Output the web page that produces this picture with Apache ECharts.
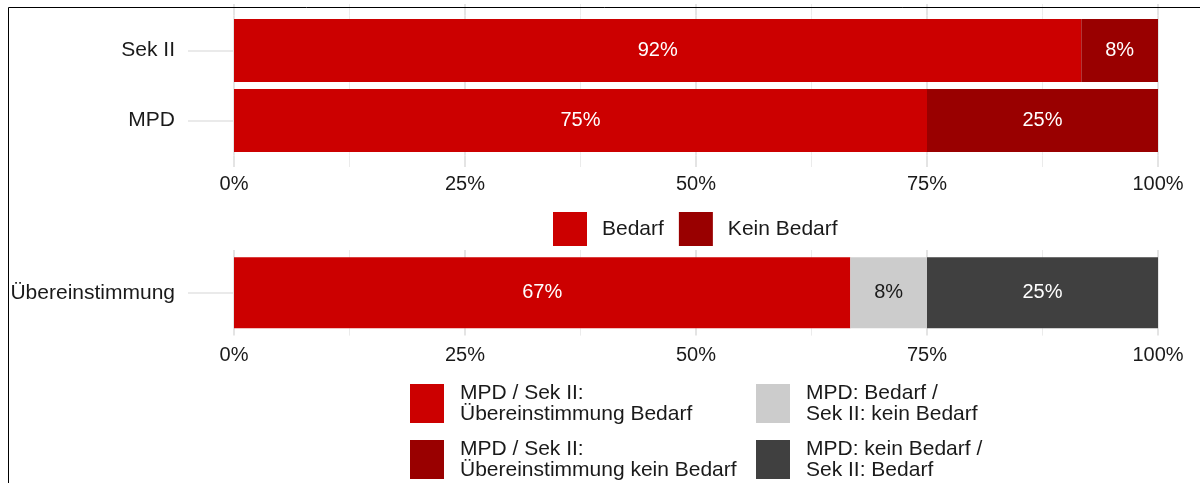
<!DOCTYPE html>
<html>
<head>
<meta charset="utf-8">
<script src="https://cdn.jsdelivr.net/npm/echarts@6/dist/echarts.min.js"></script>
<style>
  html, body { margin: 0; padding: 0; background: #fff; }
  #chart { width: 1200px; height: 483px; }
</style>
</head>
<body>
<div id="chart"></div>
<script>
// Daten oben: Bedarf je Gruppe
var groups = ['Sek II', 'MPD'];
var bedarf = [91.7, 75];
var keinBedarf = [8.3, 25];

// Daten unten: Übereinstimmung
var matchCat = ['Übereinstimmung'];
var matchBedarf = [66.7];
var mpdOnly = [8.3];
var sekOnly = [25];

var ticks = [0, 25, 50, 75, 100];

var names = {
  bedarf: 'Bedarf',
  kein: 'Kein Bedarf',
  m1: 'MPD / Sek II:\nÜbereinstimmung Bedarf',
  m2: 'MPD / Sek II:\nÜbereinstimmung kein Bedarf',
  m3: 'MPD: Bedarf /\nSek II: kein Bedarf',
  m4: 'MPD: kein Bedarf /\nSek II: Bedarf'
};

var red = '#cc0000', darkRed = '#990000', lightGrey = '#cccccc', darkGrey = '#404040';
var txt = '#1a1a1a';
var majorCol = '#dcdcdc', minorCol = '#ebebeb', hCol = '#e3e3e3';

function pct(p) { return Math.round(p.value) + '%'; }

function xBottom(grid, ext, margin) {
  return {
    type: 'value', gridIndex: grid, min: ticks[0], max: ticks[ticks.length - 1], interval: 25,
    axisLine: { show: false },
    axisTick: { show: true, length: ext, lineStyle: { color: majorCol, width: 1.5 } },
    minorTick: { show: true, splitNumber: 2, length: ext, lineStyle: { color: minorCol, width: 1 } },
    splitLine: { show: true, lineStyle: { color: majorCol, width: 1.5 } },
    minorSplitLine: { show: true, lineStyle: { color: minorCol, width: 1 } },
    axisLabel: { formatter: '{value}%', fontSize: 20, color: txt, margin: margin }
  };
}
function xTop(grid, ext) {
  return {
    type: 'value', gridIndex: grid, position: 'top', min: ticks[0], max: ticks[ticks.length - 1], interval: 25,
    axisLine: { show: false },
    axisTick: { show: true, length: ext, lineStyle: { color: majorCol, width: 1.5 } },
    minorTick: { show: true, splitNumber: 2, length: ext, lineStyle: { color: minorCol, width: 1 } },
    splitLine: { show: false },
    axisLabel: { show: false }
  };
}
function yAxis(grid, cats, pos) {
  return {
    type: 'category', gridIndex: grid, data: cats, inverse: true, position: pos,
    axisLine: { show: false },
    axisTick: { show: true, alignWithLabel: true, length: 46, lineStyle: { color: hCol, width: 1.5 } },
    axisLabel: { show: pos === 'left', fontSize: 21, color: txt, margin: 59 }
  };
}
function barSeries(name, data, color, labelColor, xi, yi, width) {
  return {
    name: name, type: 'bar', stack: 's' + xi, data: data, barWidth: width,
    xAxisIndex: xi, yAxisIndex: yi,
    itemStyle: { color: color },
    label: { show: true, position: 'inside', formatter: pct, fontSize: 20, color: labelColor }
  };
}
// Legende für die untere Reihe: je Eintrag eine eigene Legende
function keyLegend(name, left, top) {
  return {
    data: [name], left: left, top: top, icon: 'rect', padding: 0,
    itemWidth: 34, itemHeight: 39,
    textStyle: { fontSize: 21, lineHeight: 21, color: txt, padding: [0, 0, 0, 11] }
  };
}

var chart = echarts.init(document.getElementById('chart'));
chart.setOption({
  animation: false,
  backgroundColor: '#ffffff',
  textStyle: { fontFamily: 'Liberation Sans, Arial, sans-serif' },
  grid: [
    { left: 234, right: 42, top: 15.5, height: 140 },
    { left: 234, right: 42, top: 257.3, height: 71 }
  ],
  xAxis: [xBottom(0, 11.5, 18.5), xTop(0, 11.5), xBottom(1, 7.3, 17), xTop(1, 7.3)],
  yAxis: [yAxis(0, groups, 'left'), yAxis(0, groups, 'right'), yAxis(1, matchCat, 'left'), yAxis(1, matchCat, 'right')],
  legend: [
    {
      data: [names.bedarf, names.kein], left: 553, top: 212, icon: 'rect', padding: 0,
      itemWidth: 34, itemHeight: 34, itemGap: 15,
      textStyle: { fontSize: 21, color: txt, padding: [0, 0, 0, 10] }
    },
    keyLegend(names.m1, 410, 382.5),
    keyLegend(names.m2, 410, 438.5),
    keyLegend(names.m3, 756, 382.5),
    keyLegend(names.m4, 756, 438.5)
  ],
  graphic: [{
    type: 'rect', silent: true, z: 100,
    shape: { x: 8.5, y: 7.5, width: 1400, height: 800 },
    style: { fill: 'none', stroke: '#000', lineWidth: 1 }
  }],
  series: [
    barSeries(names.bedarf, bedarf, red, '#ffffff', 0, 0, '90%'),
    barSeries(names.kein, keinBedarf, darkRed, '#ffffff', 0, 0, '90%'),
    barSeries(names.m1, matchBedarf, red, '#ffffff', 2, 2, '100%'),
    barSeries(names.m3, mpdOnly, lightGrey, txt, 2, 2, '100%'),
    barSeries(names.m4, sekOnly, darkGrey, '#ffffff', 2, 2, '100%'),
    // nur für die Legende: kein Wert in der unteren Reihe
    barSeries(names.m2, [], darkRed, '#ffffff', 2, 2, '100%')
  ]
});
</script>
</body>
</html>
